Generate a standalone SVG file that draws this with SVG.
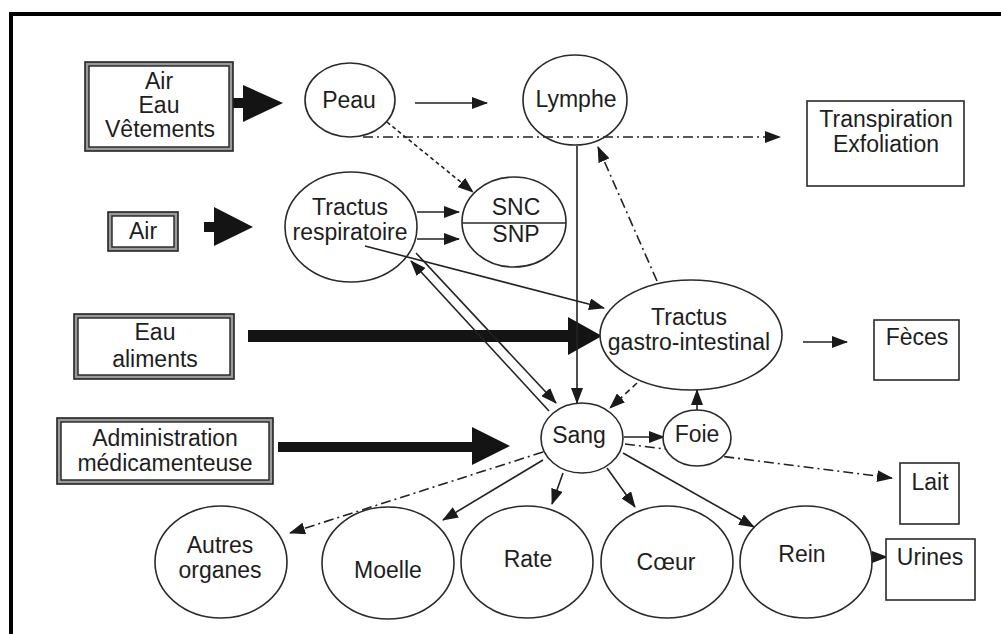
<svg xmlns="http://www.w3.org/2000/svg" width="1001" height="634" viewBox="0 0 1001 634">
<defs>
<marker id="ah" markerUnits="userSpaceOnUse" markerWidth="16" markerHeight="12" refX="15" refY="6" orient="auto">
<path d="M0,0 L16,6 L0,12 z" fill="#1a1a1a"/>
</marker>
<style>
.t{font-family:"Liberation Sans",Arial,sans-serif;font-size:23px;fill:#1e1e1e;text-anchor:middle}
.n{fill:#fff;stroke:#2a2a2a;stroke-width:1.6}
.o{fill:none;stroke:#2a2a2a;stroke-width:1.6}
.b{fill:#fff;stroke:#2a2a2a;stroke-width:1.6}
.bo{fill:#9a9a9a;stroke:#222;stroke-width:1.6}
.bi{fill:#fff;stroke:#222;stroke-width:1.4}
.c{fill:none;stroke:#222;stroke-width:1.6}
.a{marker-end:url(#ah)}
.dd{stroke-dasharray:10 4 2 4}
.dt{stroke-dasharray:4 3}
.ds{stroke-dasharray:6 4}
.big{fill:#141414}
</style>
</defs>
<rect width="1001" height="634" fill="#fff"/>
<path d="M11,634 L11,14 L1001,14" fill="none" stroke="#000" stroke-width="4"/>

<g id="connectors">
<polygon class="big" points="233,98 243,98 243,85 283,103 243,122 243,108 233,108"/>
<polygon class="big" points="204,222 214,222 214,207 253,227 214,246 214,232 204,232"/>
<polygon class="big" points="248,330 568,330 568,317 602,336 568,355 568,342 248,342"/>
<polygon class="big" points="278,442 472,442 472,427 510,446 472,465 472,452 278,452"/>
<line class="c a" x1="415" y1="103" x2="487" y2="103"/>
<line class="c a dd" x1="363" y1="137" x2="780" y2="137"/>
<line class="c a dt" x1="387" y1="122" x2="473" y2="192"/>
<line class="c a" x1="417" y1="212" x2="459" y2="212"/>
<line class="c a" x1="417" y1="239" x2="459" y2="239"/>
<line class="c a" x1="577" y1="146" x2="577" y2="403"/>
<line class="c a dd" x1="657" y1="281" x2="598" y2="147"/>
<line class="c a" x1="365" y1="246" x2="604" y2="308"/>
<line class="c a" x1="549" y1="411" x2="411" y2="261"/>
<line class="c a" x1="416" y1="253" x2="556" y2="403"/>
<line class="c a" x1="803" y1="342" x2="847" y2="342"/>
<line class="c a ds" x1="637" y1="383" x2="610" y2="408"/>
<line class="c a" x1="697" y1="411" x2="697" y2="390"/>
<line class="c a" x1="624" y1="437" x2="664" y2="437"/>
<line class="c a dd" x1="625" y1="444" x2="892" y2="478"/>
<line class="c a dd" x1="543" y1="452" x2="290" y2="533"/>
<line class="c a" x1="543" y1="460" x2="443" y2="520"/>
<line class="c a" x1="563" y1="473" x2="552" y2="504"/>
<line class="c a" x1="607" y1="468" x2="635" y2="507"/>
<line class="c a" x1="623" y1="453" x2="754" y2="527"/>
<line class="c a" x1="872" y1="557" x2="887" y2="557"/>
</g>

<g id="air-eau-vetements">
<rect class="bo" x="85" y="62" width="148" height="89"/>
<rect class="bi" x="89" y="66" width="140" height="81"/>
<text class="t" x="159" y="89">Air</text>
<text class="t" x="159" y="113">Eau</text>
<text class="t" x="160" y="137">Vêtements</text>
</g>
<g id="air">
<rect class="bo" x="108" y="212" width="70" height="39"/>
<rect class="bi" x="112" y="216" width="62" height="31"/>
<text class="t" x="143" y="239">Air</text>
</g>
<g id="eau-aliments">
<rect class="bo" x="74" y="314" width="160" height="65"/>
<rect class="bi" x="78" y="318" width="152" height="57"/>
<text class="t" x="155" y="340">Eau</text>
<text class="t" x="155" y="367">aliments</text>
</g>
<g id="administration">
<rect class="bo" x="57" y="418" width="216" height="66"/>
<rect class="bi" x="61" y="422" width="208" height="58"/>
<text class="t" x="165" y="446">Administration</text>
<text class="t" x="165" y="471">médicamenteuse</text>
</g>
<g id="peau">
<ellipse class="n" cx="350" cy="100" rx="45" ry="37"/>
<text class="t" x="349" y="108">Peau</text>
</g>
<g id="lymphe">
<ellipse class="o" cx="575" cy="100" rx="52" ry="45"/>
<text class="t" x="576" y="107">Lymphe</text>
</g>
<g id="transpiration">
<rect class="b" x="807" y="101" width="157" height="85"/>
<text class="t" x="886" y="127">Transpiration</text>
<text class="t" x="886" y="152">Exfoliation</text>
</g>
<g id="tractus-respiratoire">
<ellipse class="o" cx="351" cy="227" rx="66" ry="55"/>
<text class="t" x="350" y="215">Tractus</text>
<text class="t" x="350" y="240">respiratoire</text>
</g>
<g id="snc-snp">
<ellipse class="n" cx="514" cy="222" rx="52" ry="45"/>
<line x1="462" y1="223" x2="566" y2="223" stroke="#2a2a2a" stroke-width="1.6"/>
<text class="t" x="516" y="215">SNC</text>
<text class="t" x="516" y="242">SNP</text>
</g>
<g id="tractus-gi">
<ellipse class="n" cx="691" cy="335" rx="91" ry="55"/>
<text class="t" x="689" y="325">Tractus</text>
<text class="t" x="689" y="350">gastro-intestinal</text>
</g>
<g id="feces">
<rect class="b" x="874" y="320" width="85" height="60"/>
<text class="t" x="917" y="345">Fèces</text>
</g>
<g id="sang">
<ellipse class="n" cx="582" cy="438" rx="41" ry="35"/>
<text class="t" x="579" y="443">Sang</text>
</g>
<g id="foie">
<ellipse class="n" cx="697" cy="438" rx="34" ry="28"/>
<text class="t" x="697" y="442">Foie</text>
</g>
<g id="lait">
<rect class="b" x="900" y="463" width="59" height="61"/>
<text class="t" x="930" y="490">Lait</text>
</g>
<g id="autres-organes">
<ellipse class="n" cx="221" cy="562" rx="66" ry="56"/>
<text class="t" x="220" y="553">Autres</text>
<text class="t" x="220" y="578">organes</text>
</g>
<g id="moelle">
<ellipse class="n" cx="388" cy="563" rx="66" ry="56"/>
<text class="t" x="388" y="578">Moelle</text>
</g>
<g id="rate">
<ellipse class="n" cx="527" cy="562" rx="66" ry="56"/>
<text class="t" x="528" y="567">Rate</text>
</g>
<g id="coeur">
<ellipse class="n" cx="667" cy="562" rx="66" ry="56"/>
<text class="t" x="666" y="570">Cœur</text>
</g>
<g id="rein">
<ellipse class="n" cx="806" cy="562" rx="66" ry="56"/>
<text class="t" x="802" y="562">Rein</text>
</g>
<g id="urines">
<rect class="b" x="886" y="539" width="89" height="61"/>
<text class="t" x="930" y="565">Urines</text>
</g>
</svg>
